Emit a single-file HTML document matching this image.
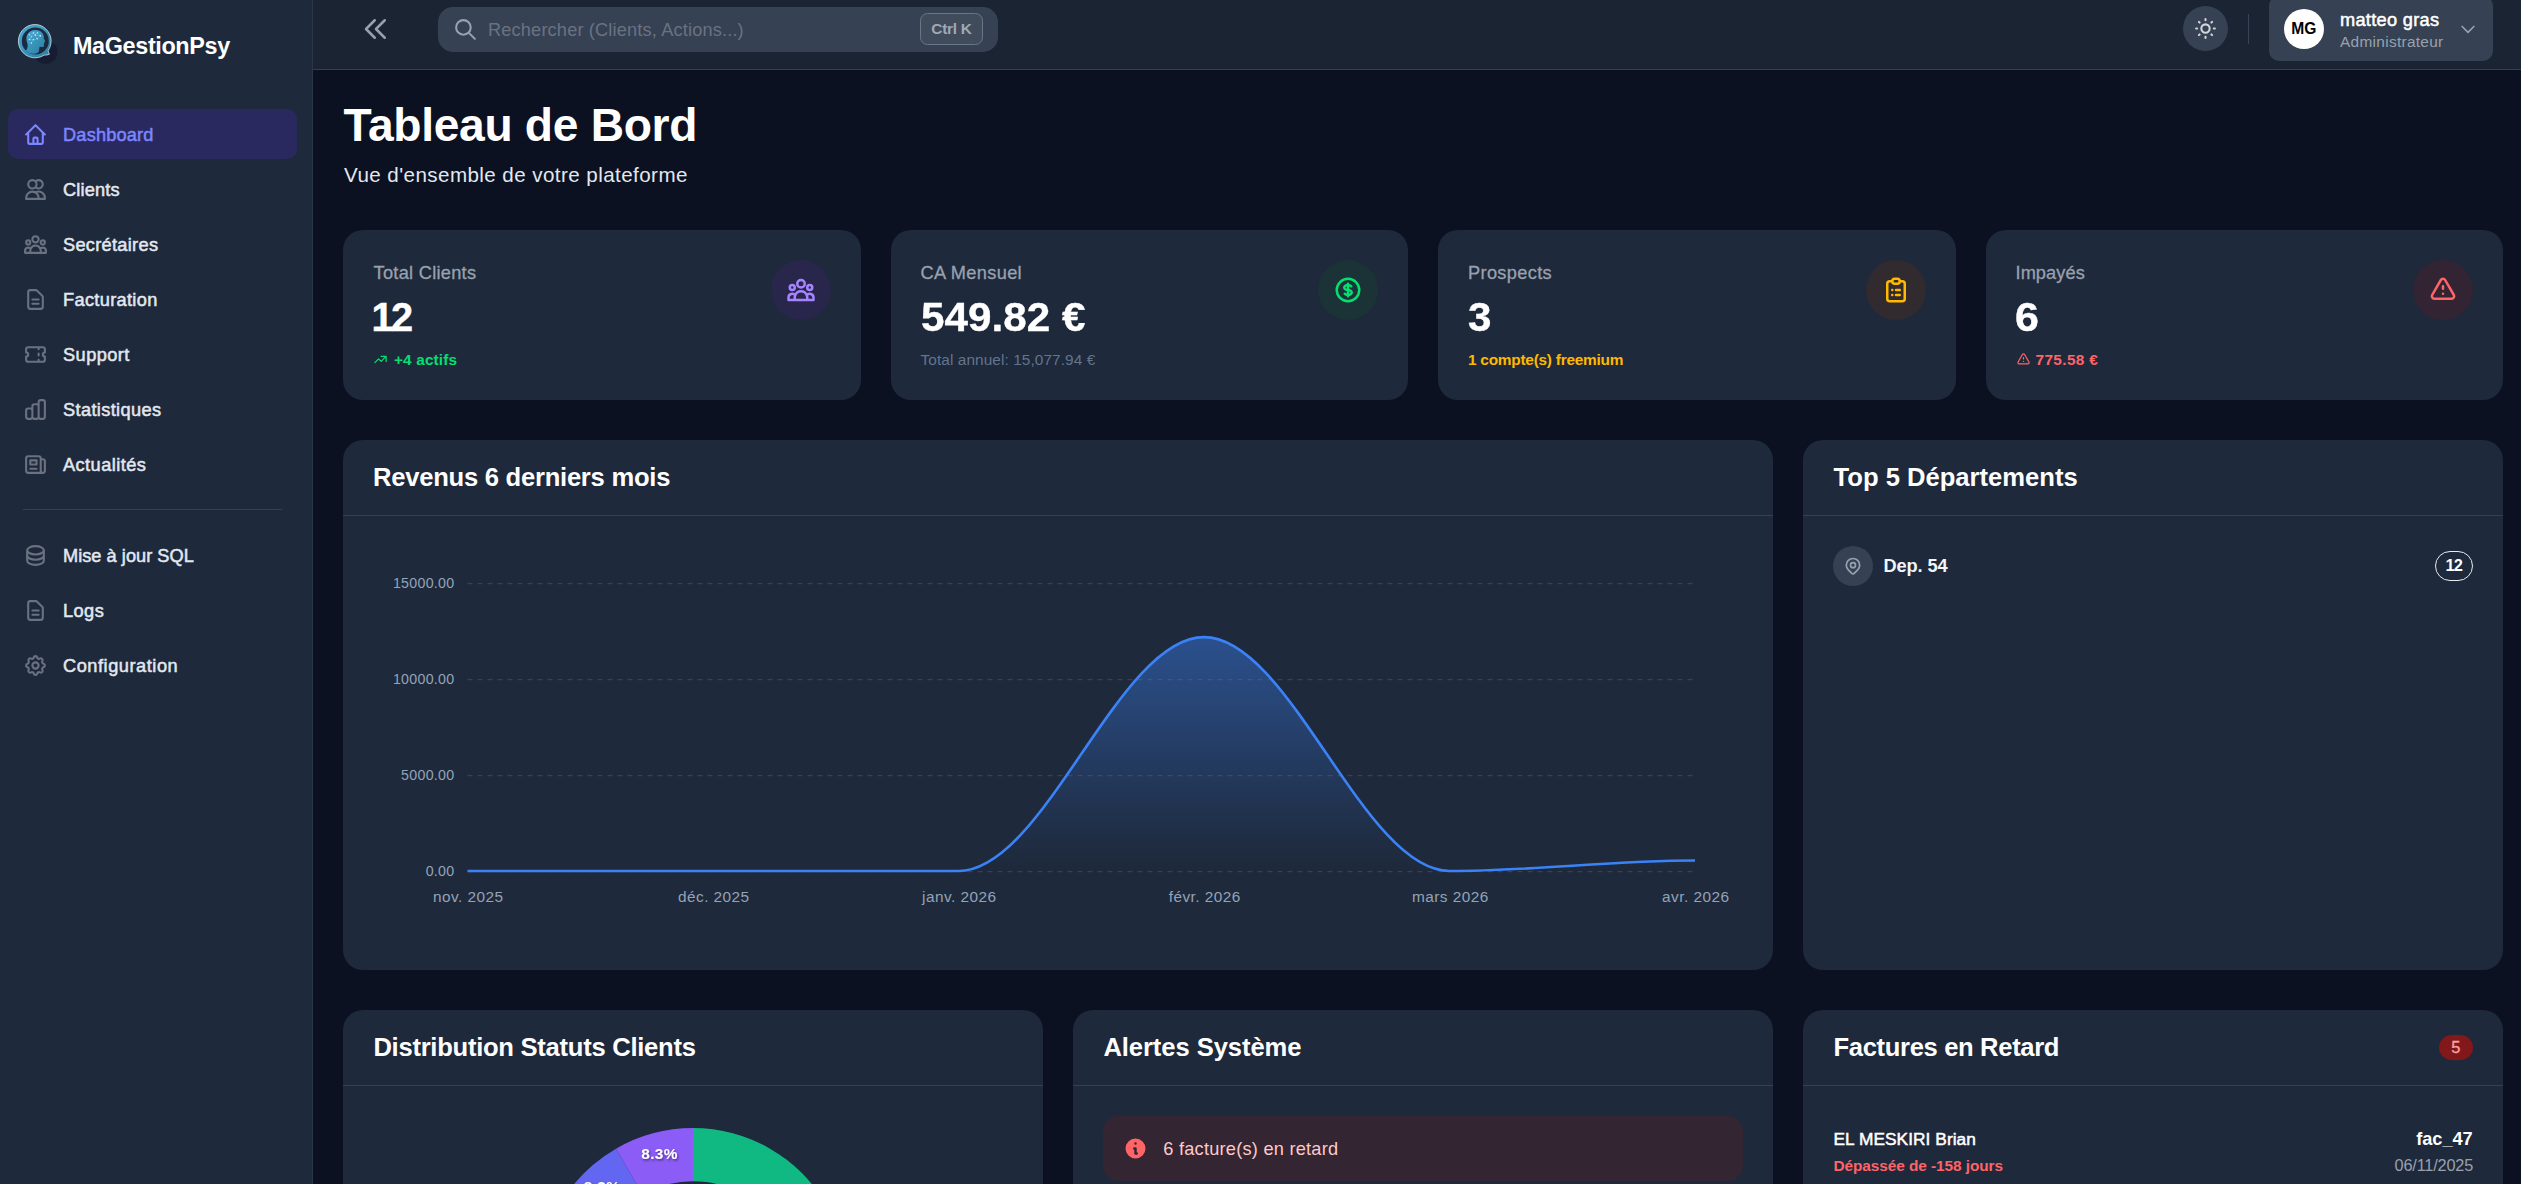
<!DOCTYPE html>
<html lang="fr"><head><meta charset="utf-8"><title>MaGestionPsy - Tableau de Bord</title>
<style>
html,body{margin:0;padding:0}
body{width:2521px;height:1184px;overflow:hidden;background:#0b1120;position:relative;font-family:"Liberation Sans",sans-serif}
.b{position:absolute}
.ic{position:absolute;overflow:visible}
.t{position:absolute;line-height:1;white-space:nowrap;font-family:"Liberation Sans",sans-serif}
svg text{font-family:"Liberation Sans",sans-serif}
#wrap{position:absolute;left:0;top:0;width:2521px;height:1184px;overflow:hidden}</style></head><body><div id="wrap">
<div class="b" style="left:0px;top:0px;width:312px;height:1184px;background:#1e293b;border-radius:0px;"></div>
<div class="b" style="left:312px;top:0px;width:1px;height:1184px;background:#293548;border-radius:0px;"></div>
<div class="b" style="left:313px;top:0px;width:2208px;height:69px;background:#1b2433;border-radius:0px;"></div>
<div class="b" style="left:313px;top:69px;width:2208px;height:1px;background:#333f54;border-radius:0px;"></div>
<div class="b" style="left:8px;top:109px;width:289px;height:50px;background:#29295f;border-radius:10px;"></div>
<div class="b" style="left:23px;top:509px;width:259px;height:1px;background:#334155;border-radius:0px;"></div>
<div class="b" style="left:438px;top:7px;width:560px;height:45px;background:#364153;border-radius:15px;"></div>
<div class="b" style="left:920px;top:13px;width:63px;height:32px;background:#404b5c;border-radius:7.5px;border:1px solid #6a7589;box-sizing:border-box;"></div>
<div class="b" style="left:2183px;top:6px;width:45px;height:45px;background:#364153;border-radius:23px;"></div>
<div class="b" style="left:2248px;top:14px;width:1px;height:30px;background:#374357;border-radius:0px;"></div>
<div class="b" style="left:2269px;top:-4px;width:224px;height:65px;background:#364153;border-radius:10px;"></div>
<div class="b" style="left:2284px;top:9px;width:40px;height:40px;background:#ffffff;border-radius:20px;"></div>
<div class="b" style="left:343px;top:230px;width:518px;height:170px;background:#1e293b;border-radius:20px;"></div>
<div class="b" style="left:891px;top:230px;width:517px;height:170px;background:#1e293b;border-radius:20px;"></div>
<div class="b" style="left:1438px;top:230px;width:518px;height:170px;background:#1e293b;border-radius:20px;"></div>
<div class="b" style="left:1986px;top:230px;width:517px;height:170px;background:#1e293b;border-radius:20px;"></div>
<div class="b" style="left:771px;top:260px;width:60px;height:60px;background:#28264b;border-radius:30px;"></div>
<div class="b" style="left:1318px;top:260px;width:60px;height:60px;background:#1b3236;border-radius:30px;"></div>
<div class="b" style="left:1866px;top:260px;width:60px;height:60px;background:#312a2f;border-radius:30px;"></div>
<div class="b" style="left:2413px;top:260px;width:60px;height:60px;background:#322432;border-radius:30px;"></div>
<div class="b" style="left:343px;top:440px;width:1430px;height:530px;background:#1e293b;border-radius:20px;"></div>
<div class="b" style="left:343px;top:515px;width:1430px;height:1px;background:#334155;border-radius:0px;"></div>
<div class="b" style="left:1803px;top:440px;width:700px;height:530px;background:#1e293b;border-radius:20px;"></div>
<div class="b" style="left:1803px;top:515px;width:700px;height:1px;background:#334155;border-radius:0px;"></div>
<div class="b" style="left:343px;top:1010px;width:700px;height:290px;background:#1e293b;border-radius:20px;"></div>
<div class="b" style="left:343px;top:1085px;width:700px;height:1px;background:#334155;border-radius:0px;"></div>
<div class="b" style="left:1073px;top:1010px;width:700px;height:290px;background:#1e293b;border-radius:20px;"></div>
<div class="b" style="left:1073px;top:1085px;width:700px;height:1px;background:#334155;border-radius:0px;"></div>
<div class="b" style="left:1803px;top:1010px;width:700px;height:290px;background:#1e293b;border-radius:20px;"></div>
<div class="b" style="left:1803px;top:1085px;width:700px;height:1px;background:#334155;border-radius:0px;"></div>
<div class="b" style="left:1833px;top:546px;width:40px;height:40px;background:#364153;border-radius:20px;"></div>
<div class="b" style="left:2435px;top:551px;width:38px;height:30px;background:transparent;border-radius:15px;border:1.5px solid #e8ebf0;box-sizing:border-box;"></div>
<div class="b" style="left:2439px;top:1035px;width:34px;height:25px;background:#82181a;border-radius:13px;"></div>
<div class="b" style="left:1103px;top:1116px;width:640px;height:65px;background:#342532;border-radius:15px;"></div>
<svg class="ic" style="left:10px;top:10px" width="60" height="60" viewBox="0 0 60 60">
<defs><linearGradient id="lg" x1="0" y1="0" x2="1" y2="1"><stop offset="0" stop-color="#45a9d6"/><stop offset="1" stop-color="#2c7f9f"/></linearGradient>
<filter id="bl" x="-30%" y="-30%" width="160%" height="160%"><feGaussianBlur stdDeviation="0.55"/></filter></defs>
<circle cx="35.6" cy="42" r="12" fill="#161f31" filter="url(#bl)"/><g transform="translate(0.9 0.25)">
<path d="M24.8 14.2a16.7 16.7 0 1 0 8.6 30.6c1.6.2 3.4-.1 5.2-.9-.9-1.200-1.300-2.500-1.200-3.800A16.700 16.700 0 0 0 24.800 14.200z" fill="url(#lg)" stroke="#e6f1f6" stroke-width="0.7"/>
<circle cx="24.400" cy="30.800" r="13.500" fill="#1c2940"/>
<path d="M15 40.500c1.800-2.600 2.300-5 1.400-7.600-1.800-4.700-.8-9.500 3.200-11.800 4-2.300 9.400-1.600 12 1.800 1.200 1.600 1.500 3.400 1.300 5.200l1.500 3.200-1.200.6.300 1.300-.7.500.300 1.200c.1 1.300-.7 2-2 1.900l-2.400-.3-.8 4.900c-3.600 3.300-9.300 2.700-12.900-.9z" fill="url(#lg)"/>
<g fill="#eaf6fb"><circle cx="18.500" cy="24.500" r=".6"/><circle cx="22.500" cy="22.800" r=".7"/><circle cx="26.600" cy="22.600" r=".7"/><circle cx="24.500" cy="24.700" r=".7"/><circle cx="29.400" cy="25.600" r=".8"/><circle cx="20.500" cy="26.500" r=".6"/><circle cx="26.300" cy="28.500" r=".7"/><circle cx="22.500" cy="29.400" r=".7"/><circle cx="18.500" cy="29.300" r=".7"/><circle cx="20.400" cy="32.800" r=".7"/></g>
<g stroke="#bfe3f1" stroke-width=".25" fill="none" opacity=".8"><path d="M18.500 24.500l4-1.700 4.100-.2 2.800 3-3.100 2.900-3.800.9-4 -.1 2-2.800 4-1.800 1.800 3.800M22.500 29.400l-2.100 3.400M18.500 24.500l2 2M22.500 22.800l2 1.900 2.100-2.100M24.500 24.700l4.900.9"/></g>
</g></svg>
<svg class="ic" style="left:23.00px;top:121.50px" width="25" height="25" viewBox="0 0 24 24" fill="none" stroke="#7c86ff" stroke-width="2" stroke-linecap="round" stroke-linejoin="round"><path d="M3 12l2-2m0 0l7-7 7 7M5 10v10a1 1 0 001 1h3m10-11l2 2m-2-2v10a1 1 0 01-1 1h-3m-6 0a1 1 0 001-1v-4a1 1 0 011-1h2a1 1 0 011 1v4a1 1 0 001 1m-6 0h6"/></svg>
<svg class="ic" style="left:23.00px;top:177.00px" width="25" height="25" viewBox="0 0 24 24" fill="none" stroke="#6a7282" stroke-width="2" stroke-linecap="round" stroke-linejoin="round"><path d="M12 4.354a4 4 0 110 5.292M15 21H3v-1a6 6 0 0112 0v1zm0 0h6v-1a6 6 0 00-9-5.197M13 7a4 4 0 11-8 0 4 4 0 018 0z"/></svg>
<svg class="ic" style="left:23.00px;top:232.00px" width="25" height="25" viewBox="0 0 24 24" fill="none" stroke="#6a7282" stroke-width="2" stroke-linecap="round" stroke-linejoin="round"><path d="M17 20h5v-2a3 3 0 00-5.356-1.857M17 20H7m10 0v-2c0-.656-.126-1.283-.356-1.857M7 20H2v-2a3 3 0 015.356-1.857M7 20v-2c0-.656.126-1.283.356-1.857m0 0a5.002 5.002 0 019.288 0M15 7a3 3 0 11-6 0 3 3 0 016 0zm6 3a2 2 0 11-4 0 2 2 0 014 0zM7 10a2 2 0 11-4 0 2 2 0 014 0z"/></svg>
<svg class="ic" style="left:23.00px;top:287.00px" width="25" height="25" viewBox="0 0 24 24" fill="none" stroke="#6a7282" stroke-width="2" stroke-linecap="round" stroke-linejoin="round"><path d="M9 12h6m-6 4h6m2 5H7a2 2 0 01-2-2V5a2 2 0 012-2h5.586a1 1 0 01.707.293l5.414 5.414a1 1 0 01.293.707V19a2 2 0 01-2 2z"/></svg>
<svg class="ic" style="left:23.00px;top:342.00px" width="25" height="25" viewBox="0 0 24 24" fill="none" stroke="#6a7282" stroke-width="2" stroke-linecap="round" stroke-linejoin="round"><path d="M15 5v2m0 4v2m0 4v2M5 5a2 2 0 00-2 2v3a2 2 0 110 4v3a2 2 0 002 2h14a2 2 0 002-2v-3a2 2 0 110-4V7a2 2 0 00-2-2H5z"/></svg>
<svg class="ic" style="left:23.00px;top:397.00px" width="25" height="25" viewBox="0 0 24 24" fill="none" stroke="#6a7282" stroke-width="2" stroke-linecap="round" stroke-linejoin="round"><path d="M9 19v-6a2 2 0 00-2-2H5a2 2 0 00-2 2v6a2 2 0 002 2h2a2 2 0 002-2zm0 0V9a2 2 0 012-2h2a2 2 0 012 2v10m-6 0a2 2 0 002 2h2a2 2 0 002-2m0 0V5a2 2 0 012-2h2a2 2 0 012 2v14a2 2 0 01-2 2h-2a2 2 0 01-2-2z"/></svg>
<svg class="ic" style="left:23.00px;top:452.00px" width="25" height="25" viewBox="0 0 24 24" fill="none" stroke="#6a7282" stroke-width="2" stroke-linecap="round" stroke-linejoin="round"><path d="M19 20H5a2 2 0 01-2-2V6a2 2 0 012-2h10a2 2 0 012 2v1m2 13a2 2 0 01-2-2V7m2 13a2 2 0 002-2V9a2 2 0 00-2-2h-2m-4-3H9M7 16h6M7 8h6v4H7V8z"/></svg>
<svg class="ic" style="left:23.00px;top:543.00px" width="25" height="25" viewBox="0 0 24 24" fill="none" stroke="#6a7282" stroke-width="2" stroke-linecap="round" stroke-linejoin="round"><path d="M4 7v10c0 2.21 3.582 4 8 4s8-1.79 8-4V7M4 7c0 2.21 3.582 4 8 4s8-1.79 8-4M4 7c0-2.21 3.582-4 8-4s8 1.79 8 4m0 5c0 2.21-3.582 4-8 4s-8-1.79-8-4"/></svg>
<svg class="ic" style="left:23.00px;top:598.00px" width="25" height="25" viewBox="0 0 24 24" fill="none" stroke="#6a7282" stroke-width="2" stroke-linecap="round" stroke-linejoin="round"><path d="M9 12h6m-6 4h6m2 5H7a2 2 0 01-2-2V5a2 2 0 012-2h5.586a1 1 0 01.707.293l5.414 5.414a1 1 0 01.293.707V19a2 2 0 01-2 2z"/></svg>
<svg class="ic" style="left:23.00px;top:653.00px" width="25" height="25" viewBox="0 0 24 24" fill="none" stroke="#6a7282" stroke-width="2" stroke-linecap="round" stroke-linejoin="round"><path d="M10.325 4.317c.426-1.756 2.924-1.756 3.35 0a1.724 1.724 0 002.573 1.066c1.543-.94 3.31.826 2.37 2.37a1.724 1.724 0 001.065 2.572c1.756.426 1.756 2.924 0 3.35a1.724 1.724 0 00-1.066 2.573c.94 1.543-.826 3.31-2.37 2.37a1.724 1.724 0 00-2.572 1.065c-.426 1.756-2.924 1.756-3.35 0a1.724 1.724 0 00-2.573-1.066c-1.543.94-3.31-.826-2.37-2.37a1.724 1.724 0 00-1.065-2.572c-1.756-.426-1.756-2.924 0-3.35a1.724 1.724 0 001.066-2.573c-.94-1.543.826-3.31 2.37-2.37.996.608 2.296.07 2.572-1.065z M15 12a3 3 0 11-6 0 3 3 0 016 0z"/></svg>
<svg class="ic" style="left:360.50px;top:13.70px" width="30" height="30" viewBox="0 0 24 24" fill="none" stroke="#99a1af" stroke-width="2" stroke-linecap="round" stroke-linejoin="round"><path d="M11 19l-7-7 7-7m8 14l-7-7 7-7"/></svg>
<svg class="ic" style="left:453.00px;top:17.00px" width="25" height="25" viewBox="0 0 24 24" fill="none" stroke="#99a1af" stroke-width="2" stroke-linecap="round" stroke-linejoin="round"><path d="M21 21l-6-6m2-5a7 7 0 11-14 0 7 7 0 0114 0z"/></svg>
<svg class="ic" style="left:2193.00px;top:16.00px" width="25" height="25" viewBox="0 0 24 24" fill="none" stroke="#d1d5dc" stroke-width="2" stroke-linecap="round" stroke-linejoin="round"><path d="M12 3v1m0 16v1m9-9h-1M4 12H3m15.364 6.364l-.707-.707M6.343 6.343l-.707-.707m12.728 0l-.707.707M6.343 17.657l-.707.707M16 12a4 4 0 11-8 0 4 4 0 018 0z"/></svg>
<svg class="ic" style="left:2457.70px;top:18.70px" width="20" height="20" viewBox="0 0 24 24" fill="none" stroke="#99a1af" stroke-width="2" stroke-linecap="round" stroke-linejoin="round"><path d="M19 9l-7 7-7-7"/></svg>
<svg class="ic" style="left:786.00px;top:275.00px" width="30" height="30" viewBox="0 0 24 24" fill="none" stroke="#a684ff" stroke-width="2" stroke-linecap="round" stroke-linejoin="round"><path d="M17 20h5v-2a3 3 0 00-5.356-1.857M17 20H7m10 0v-2c0-.656-.126-1.283-.356-1.857M7 20H2v-2a3 3 0 015.356-1.857M7 20v-2c0-.656.126-1.283.356-1.857m0 0a5.002 5.002 0 019.288 0M15 7a3 3 0 11-6 0 3 3 0 016 0zm6 3a2 2 0 11-4 0 2 2 0 014 0zM7 10a2 2 0 11-4 0 2 2 0 014 0z"/></svg>
<svg class="ic" style="left:1333.00px;top:275.00px" width="30" height="30" viewBox="0 0 24 24" fill="none" stroke="#05df72" stroke-width="2" stroke-linecap="round" stroke-linejoin="round"><path d="M12 8c-1.657 0-3 .895-3 2s1.343 2 3 2 3 .895 3 2-1.343 2-3 2m0-8c1.11 0 2.08.402 2.599 1M12 8V7m0 1v8m0 0v1m0-1c-1.11 0-2.08-.402-2.599-1M21 12a9 9 0 11-18 0 9 9 0 0118 0z"/></svg>
<svg class="ic" style="left:1881.00px;top:275.00px" width="30" height="30" viewBox="0 0 24 24" fill="none" stroke="#ffb900" stroke-width="2" stroke-linecap="round" stroke-linejoin="round"><path d="M9 5H7a2 2 0 00-2 2v12a2 2 0 002 2h10a2 2 0 002-2V7a2 2 0 00-2-2h-2M9 5a2 2 0 002 2h2a2 2 0 002-2M9 5a2 2 0 012-2h2a2 2 0 012 2m-3 7h3m-3 4h3m-6-4h.01M9 16h.01"/></svg>
<svg class="ic" style="left:2428.00px;top:275.00px" width="30" height="30" viewBox="0 0 24 24" fill="none" stroke="#ff6467" stroke-width="2" stroke-linecap="round" stroke-linejoin="round"><path d="M12 9v2m0 4h.01m-6.938 4h13.856c1.54 0 2.502-1.667 1.732-3L13.732 4c-.77-1.333-2.694-1.333-3.464 0L3.34 16c-.77 1.333.192 3 1.732 3z"/></svg>
<svg class="ic" style="left:373.00px;top:351.80px" width="15" height="15" viewBox="0 0 24 24" fill="none" stroke="#05df72" stroke-width="2" stroke-linecap="round" stroke-linejoin="round"><path d="M13 7h8m0 0v8m0-8l-8 8-4-4-6 6"/></svg>
<svg class="ic" style="left:2015.50px;top:352.00px" width="15" height="15" viewBox="0 0 24 24" fill="none" stroke="#ff6467" stroke-width="2" stroke-linecap="round" stroke-linejoin="round"><path d="M12 9v2m0 4h.01m-6.938 4h13.856c1.54 0 2.502-1.667 1.732-3L13.732 4c-.77-1.333-2.694-1.333-3.464 0L3.34 16c-.77 1.333.192 3 1.732 3z"/></svg>
<svg class="ic" style="left:1843.00px;top:556.00px" width="20" height="20" viewBox="0 0 24 24" fill="none" stroke="#99a1af" stroke-width="2" stroke-linecap="round" stroke-linejoin="round"><path d="M17.657 16.657L13.414 20.9a1.998 1.998 0 01-2.827 0l-4.244-4.243a8 8 0 1111.314 0z M15 11a3 3 0 11-6 0 3 3 0 016 0z"/></svg>
<svg class="ic" style="left:1123px;top:1136px" width="25" height="25" viewBox="0 0 20 20" fill="#ff6467"><path fill-rule="evenodd" clip-rule="evenodd" d="M18 10a8 8 0 11-16 0 8 8 0 0116 0zm-7-4a1 1 0 11-2 0 1 1 0 012 0zM9 9a1 1 0 000 2v3a1 1 0 001 1h1a1 1 0 100-2v-3a1 1 0 00-1-1H9z"/></svg>
<svg class="ic" style="left:0;top:0" width="2521" height="1184" viewBox="0 0 2521 1184">
<defs><linearGradient id="ag" gradientUnits="userSpaceOnUse" x1="0" y1="637.1" x2="0" y2="871.0"><stop offset="0" stop-color="#3b82f6" stop-opacity="0.44"/><stop offset="0.93" stop-color="#3b82f6" stop-opacity="0.02"/><stop offset="1" stop-color="#3b82f6" stop-opacity="0"/></linearGradient></defs>
<line x1="467.5" y1="583.5" x2="1695.0" y2="583.5" stroke="#364253" stroke-width="1.25" stroke-dasharray="5 5"/>
<text x="454.5" y="588.0" text-anchor="end" font-size="14.2" fill="#94a3b8" letter-spacing="0.3">15000.00</text>
<line x1="467.5" y1="679.5" x2="1695.0" y2="679.5" stroke="#364253" stroke-width="1.25" stroke-dasharray="5 5"/>
<text x="454.5" y="684.0" text-anchor="end" font-size="14.2" fill="#94a3b8" letter-spacing="0.3">10000.00</text>
<line x1="467.5" y1="775.5" x2="1695.0" y2="775.5" stroke="#364253" stroke-width="1.25" stroke-dasharray="5 5"/>
<text x="454.5" y="780.0" text-anchor="end" font-size="14.2" fill="#94a3b8" letter-spacing="0.3">5000.00</text>
<line x1="467.5" y1="871.5" x2="1695.0" y2="871.5" stroke="#364253" stroke-width="1.25" stroke-dasharray="5 5"/>
<text x="454.5" y="876.0" text-anchor="end" font-size="14.2" fill="#94a3b8" letter-spacing="0.3">0.00</text>
<text x="468.3" y="901.5" text-anchor="middle" font-size="15.4" fill="#94a3b8" letter-spacing="0.45">nov. 2025</text>
<text x="713.8" y="901.5" text-anchor="middle" font-size="15.4" fill="#94a3b8" letter-spacing="0.45">déc. 2025</text>
<text x="959.3" y="901.5" text-anchor="middle" font-size="15.4" fill="#94a3b8" letter-spacing="0.45">janv. 2026</text>
<text x="1204.8" y="901.5" text-anchor="middle" font-size="15.4" fill="#94a3b8" letter-spacing="0.45">févr. 2026</text>
<text x="1450.3" y="901.5" text-anchor="middle" font-size="15.4" fill="#94a3b8" letter-spacing="0.45">mars 2026</text>
<text x="1695.8" y="901.5" text-anchor="middle" font-size="15.4" fill="#94a3b8" letter-spacing="0.45">avr. 2026</text>
<path d="M467.50 871.00 C553.42 871.00 627.08 871.00 713.00 871.00 C798.92 871.00 872.58 871.00 958.50 871.00 C1044.42 871.00 1118.08 637.14 1204.00 637.14 C1289.92 637.14 1363.58 871.00 1449.50 871.00 C1535.42 871.00 1609.08 860.44 1695.00 860.44 L1695.00 871.0 L467.50 871.0 Z" fill="url(#ag)"/>
<path d="M467.50 871.00 C553.42 871.00 627.08 871.00 713.00 871.00 C798.92 871.00 872.58 871.00 958.50 871.00 C1044.42 871.00 1118.08 637.14 1204.00 637.14 C1289.92 637.14 1363.58 871.00 1449.50 871.00 C1535.42 871.00 1609.08 860.44 1695.00 860.44" fill="none" stroke="#3b82f6" stroke-width="2.6" stroke-linecap="butt"/>
<path d="M693.00 1128.00 A154.0 154.0 0 1 1 559.63 1359.00 L605.70 1332.40 A100.8 100.8 0 1 0 693.00 1181.20 Z" fill="#10b981"/>
<path d="M559.63 1359.00 A154.0 154.0 0 0 1 559.63 1205.00 L605.70 1231.60 A100.8 100.8 0 0 0 605.70 1332.40 Z" fill="#f59e0b"/>
<path d="M559.63 1205.00 A154.0 154.0 0 0 1 616.00 1148.63 L642.60 1194.70 A100.8 100.8 0 0 0 605.70 1231.60 Z" fill="#6366f1"/>
<path d="M616.00 1148.63 A154.0 154.0 0 0 1 693.00 1128.00 L693.00 1181.20 A100.8 100.8 0 0 0 642.60 1194.70 Z" fill="#8b5cf6"/>
<defs><filter id="ts" x="-20%" y="-20%" width="140%" height="160%"><feDropShadow dx="1" dy="1.5" stdDeviation="1" flood-color="#000" flood-opacity="0.5"/></filter></defs>
<text x="659.5" y="1159" text-anchor="middle" font-size="15.4" font-weight="700" fill="#fff" filter="url(#ts)" letter-spacing="0.3">8.3%</text>
<text x="602" y="1192" text-anchor="middle" font-size="15.4" font-weight="700" fill="#fff" filter="url(#ts)" letter-spacing="0.3">8.3%</text>
</svg>
<span class="t" id="brand" style="left:73.00px;top:35.39px;font-size:23.4px;font-weight:700;color:#ffffff;letter-spacing:-0.364px;">MaGestionPsy</span>
<span class="t" id="n1" style="left:63.00px;top:125.59px;font-size:18.2px;font-weight:400;color:#7c86ff;letter-spacing:0.188px;-webkit-text-stroke:0.5px;">Dashboard</span>
<span class="t" id="n2" style="left:63.00px;top:180.59px;font-size:18.2px;font-weight:400;color:#e2e8f0;letter-spacing:0.167px;-webkit-text-stroke:0.5px;">Clients</span>
<span class="t" id="n3" style="left:63.00px;top:235.59px;font-size:18.2px;font-weight:400;color:#e2e8f0;letter-spacing:0.300px;-webkit-text-stroke:0.5px;">Secrétaires</span>
<span class="t" id="n4" style="left:63.00px;top:290.59px;font-size:18.2px;font-weight:400;color:#e2e8f0;letter-spacing:0.330px;-webkit-text-stroke:0.5px;">Facturation</span>
<span class="t" id="n5" style="left:63.00px;top:345.59px;font-size:18.2px;font-weight:400;color:#e2e8f0;letter-spacing:0.450px;-webkit-text-stroke:0.5px;">Support</span>
<span class="t" id="n6" style="left:63.00px;top:400.59px;font-size:18.2px;font-weight:400;color:#e2e8f0;letter-spacing:0.364px;-webkit-text-stroke:0.5px;">Statistiques</span>
<span class="t" id="n7" style="left:63.00px;top:455.59px;font-size:18.2px;font-weight:400;color:#e2e8f0;letter-spacing:0.444px;-webkit-text-stroke:0.5px;">Actualités</span>
<span class="t" id="n8" style="left:63.00px;top:546.59px;font-size:18.2px;font-weight:400;color:#e2e8f0;letter-spacing:0.029px;-webkit-text-stroke:0.5px;">Mise à jour SQL</span>
<span class="t" id="n9" style="left:63.00px;top:601.59px;font-size:18.2px;font-weight:400;color:#e2e8f0;letter-spacing:0.433px;-webkit-text-stroke:0.5px;">Logs</span>
<span class="t" id="n10" style="left:63.00px;top:656.59px;font-size:18.2px;font-weight:400;color:#e2e8f0;letter-spacing:0.542px;-webkit-text-stroke:0.5px;">Configuration</span>
<span class="t" id="ph" style="left:488.00px;top:20.59px;font-size:18.2px;font-weight:400;color:#6a7282;letter-spacing:0.161px;">Rechercher (Clients, Actions...)</span>
<span class="t" id="ctrlk" style="left:931.30px;top:21.26px;font-size:15.4px;font-weight:700;color:#a0a8b8;letter-spacing:-0.260px;">Ctrl K</span>
<span class="t" id="mg" style="left:2291.30px;top:20.79px;font-size:15.6px;font-weight:700;color:#000000;letter-spacing:0.000px;">MG</span>
<span class="t" id="uname" style="left:2340.00px;top:10.59px;font-size:18.2px;font-weight:400;color:#ffffff;letter-spacing:0.300px;-webkit-text-stroke:0.5px;">matteo gras</span>
<span class="t" id="urole" style="left:2340.00px;top:33.96px;font-size:15.4px;font-weight:400;color:#99a1af;letter-spacing:0.308px;">Administrateur</span>
<span class="t" id="h1" style="left:343.50px;top:101.89px;font-size:46.2px;font-weight:700;color:#ffffff;letter-spacing:-0.321px;">Tableau de Bord</span>
<span class="t" id="sub" style="left:344.00px;top:164.56px;font-size:20.6px;font-weight:400;color:#e2e8f0;letter-spacing:0.424px;">Vue d'ensemble de votre plateforme</span>
<span class="t" id="c1l" style="left:373.60px;top:263.59px;font-size:18.2px;font-weight:400;color:#99a1af;letter-spacing:0.283px;-webkit-text-stroke:0.3px;">Total Clients</span>
<span class="t" id="c1v" style="left:371.50px;top:297.81px;font-size:39.8px;font-weight:700;color:#ffffff;letter-spacing:-2.600px;-webkit-text-stroke:0.4px;">12</span>
<span class="t" id="c1s" style="left:394.00px;top:351.96px;font-size:15.4px;font-weight:700;color:#05df72;letter-spacing:0.125px;">+4 actifs</span>
<span class="t" id="c2l" style="left:920.50px;top:263.59px;font-size:18.2px;font-weight:400;color:#99a1af;letter-spacing:0.344px;-webkit-text-stroke:0.3px;">CA Mensuel</span>
<span class="t" id="c2v" style="left:920.50px;top:297.81px;font-size:39.8px;font-weight:700;color:#ffffff;letter-spacing:0.027px;-webkit-text-stroke:0.4px;transform:scaleX(1.06);transform-origin:0 0;">549.82 €</span>
<span class="t" id="c2s" style="left:920.50px;top:351.96px;font-size:15.4px;font-weight:400;color:#62748e;letter-spacing:0.079px;">Total annuel: 15,077.94 €</span>
<span class="t" id="c3l" style="left:1468.00px;top:263.59px;font-size:18.2px;font-weight:400;color:#99a1af;letter-spacing:0.350px;-webkit-text-stroke:0.3px;">Prospects</span>
<span class="t" id="c3v" style="left:1468.00px;top:297.81px;font-size:39.8px;font-weight:700;color:#ffffff;letter-spacing:-0.302px;-webkit-text-stroke:0.4px;transform:scaleX(1.06);transform-origin:0 0;">3</span>
<span class="t" id="c3s" style="left:1468.00px;top:351.96px;font-size:15.4px;font-weight:700;color:#ffb900;letter-spacing:-0.242px;">1 compte(s) freemium</span>
<span class="t" id="c4l" style="left:2015.50px;top:263.59px;font-size:18.2px;font-weight:400;color:#99a1af;letter-spacing:0.083px;-webkit-text-stroke:0.3px;">Impayés</span>
<span class="t" id="c4v" style="left:2015.30px;top:297.81px;font-size:39.8px;font-weight:700;color:#ffffff;letter-spacing:-0.056px;-webkit-text-stroke:0.4px;transform:scaleX(1.08);transform-origin:0 0;">6</span>
<span class="t" id="c4s" style="left:2035.50px;top:351.96px;font-size:15.4px;font-weight:700;color:#ff6467;letter-spacing:0.357px;">775.58 €</span>
<span class="t" id="t1" style="left:373.00px;top:464.83px;font-size:25.6px;font-weight:700;color:#ffffff;letter-spacing:-0.255px;">Revenus 6 derniers mois</span>
<span class="t" id="t2" style="left:1833.50px;top:464.83px;font-size:25.6px;font-weight:700;color:#ffffff;letter-spacing:0.006px;">Top 5 Départements</span>
<span class="t" id="t3" style="left:373.40px;top:1035.33px;font-size:25.6px;font-weight:700;color:#ffffff;letter-spacing:-0.274px;">Distribution Statuts Clients</span>
<span class="t" id="t4" style="left:1103.40px;top:1035.33px;font-size:25.6px;font-weight:700;color:#ffffff;letter-spacing:-0.079px;">Alertes Système</span>
<span class="t" id="t5" style="left:1833.50px;top:1035.33px;font-size:25.6px;font-weight:700;color:#ffffff;letter-spacing:-0.347px;">Factures en Retard</span>
<span class="t" id="dep" style="left:1883.40px;top:557.09px;font-size:18.2px;font-weight:700;color:#f1f5f9;letter-spacing:-0.067px;">Dep. 54</span>
<span class="t" id="b12" style="left:2445.60px;top:557.32px;font-size:16.4px;font-weight:700;color:#ffffff;letter-spacing:-1.000px;">12</span>
<span class="t" id="b5" style="left:2451.30px;top:1038.72px;font-size:16.4px;font-weight:400;color:#ffa2a2;letter-spacing:-0.300px;-webkit-text-stroke:0.3px;">5</span>
<span class="t" id="al" style="left:1163.30px;top:1139.59px;font-size:18.2px;font-weight:400;color:#ffc9c9;letter-spacing:0.238px;">6 facture(s) en retard</span>
<span class="t" id="f1" style="left:1833.50px;top:1131.46px;font-size:17.3px;font-weight:400;color:#ffffff;letter-spacing:0.060px;-webkit-text-stroke:0.5px;">EL MESKIRI Brian</span>
<span class="t" id="f2" style="left:1833.50px;top:1158.16px;font-size:15.4px;font-weight:700;color:#ff6467;letter-spacing:-0.071px;">Dépassée de -158 jours</span>
<span class="t" id="f3" style="left:2416.30px;top:1129.59px;font-size:18.2px;font-weight:700;color:#ffffff;letter-spacing:-0.060px;">fac_47</span>
<span class="t" id="f4" style="left:2394.50px;top:1157.40px;font-size:16.3px;font-weight:400;color:#99a1af;letter-spacing:-0.167px;">06/11/2025</span>
</div></body></html>
